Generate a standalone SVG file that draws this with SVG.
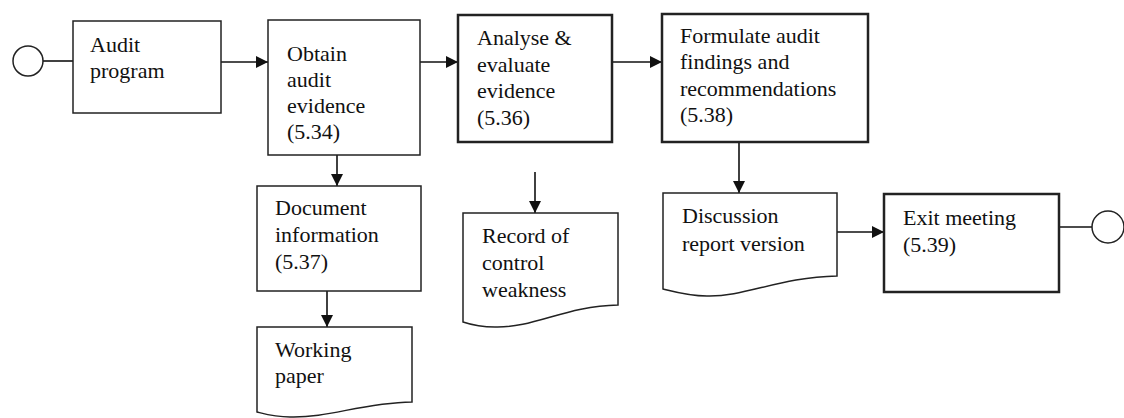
<svg xmlns="http://www.w3.org/2000/svg" width="1124" height="418" viewBox="0 0 1124 418">
<defs>
<marker id="ah" markerUnits="userSpaceOnUse" markerWidth="12" markerHeight="12" viewBox="0 0 12 12" refX="12" refY="6" orient="auto">
<path d="M0,0 L12,6 L0,12 Z" fill="#111"/>
</marker>
</defs>
<style>
.thin{fill:#fff;stroke:#222;stroke-width:1.5}
.thick{fill:#fff;stroke:#222;stroke-width:2.5}
.t{font-family:'Liberation Serif',serif;font-size:22px;fill:#111}
.d{font-family:'DejaVu Serif',serif}
.c{fill:none;stroke:#111;stroke-width:1.6}
</style>
<rect width="1124" height="418" fill="#fff"/>
<g id="connectors">
<line class="c" x1="43" y1="61" x2="73" y2="61"/>
<line class="c" x1="221" y1="62" x2="268" y2="62" marker-end="url(#ah)"/>
<line class="c" x1="420" y1="62" x2="458" y2="62" marker-end="url(#ah)"/>
<line class="c" x1="612" y1="62" x2="662" y2="62" marker-end="url(#ah)"/>
<line class="c" x1="337" y1="155" x2="337" y2="186" marker-end="url(#ah)"/>
<line class="c" x1="327" y1="291" x2="327" y2="327" marker-end="url(#ah)"/>
<line class="c" x1="535" y1="172" x2="535" y2="213" marker-end="url(#ah)"/>
<line class="c" x1="739" y1="142" x2="739" y2="193" marker-end="url(#ah)"/>
<line class="c" x1="837" y1="232" x2="884" y2="232" marker-end="url(#ah)"/>
<line class="c" x1="1059" y1="227" x2="1092" y2="227"/>
</g>
<g id="start"><circle class="thin" cx="28" cy="61" r="15"/></g>
<g id="audit-program">
<rect class="thin" x="73" y="21" width="148" height="92"/>
<text class="t" x="90" y="52"><tspan x="90">Audit</tspan><tspan x="90" dy="26">program</tspan></text>
</g>
<g id="obtain">
<rect class="thin" x="268" y="20" width="152" height="135"/>
<text class="t" x="287" y="61"><tspan x="287">Obtain</tspan><tspan x="287" dy="26">audit</tspan><tspan x="287" dy="26">evidence</tspan><tspan x="287" dy="26">(5.34)</tspan></text>
</g>
<g id="analyse">
<rect class="thick" x="458" y="15" width="154" height="127"/>
<text class="t" x="477" y="45"><tspan x="477">Analyse &amp;</tspan><tspan x="477" dy="26.5">evaluate</tspan><tspan x="477" dy="26.5">evidence</tspan><tspan x="477" dy="26.5">(5.36)</tspan></text>
</g>
<g id="formulate">
<rect class="thick" x="662" y="14" width="206" height="128"/>
<text class="t" x="680" y="43"><tspan x="680">Formulate audit</tspan><tspan x="680" dy="26.3">findings and</tspan><tspan x="680" dy="26.3">recommendations</tspan><tspan x="680" dy="26.3">(5.38)</tspan></text>
</g>
<g id="document-information">
<rect class="thin" x="257" y="186" width="164" height="105"/>
<text class="t" x="275" y="215"><tspan x="275">Document</tspan><tspan x="275" dy="27">information</tspan><tspan x="275" dy="27">(5.37)</tspan></text>
</g>
<g id="working-paper">
<path class="thin" d="M257,327 H412 V402 C360,403 330,418 290,417 C275,417 265,414 257,412 Z"/>
<text class="t" x="275" y="357"><tspan x="275">Working</tspan><tspan x="275" dy="26">paper</tspan></text>
</g>
<g id="record">
<path class="thin" d="M463,213 H618 V305 C565,306 535,328 495,327 C482,327 472,325 463,322 Z"/>
<text class="t" x="482" y="243"><tspan x="482">Record of</tspan><tspan x="482" dy="27">control</tspan><tspan x="482" dy="27">weakness</tspan></text>
</g>
<g id="discussion">
<path class="thin" d="M663,193 H837 V276 C780,277 745,297 707,296 C690,296 675,292 663,289 Z"/>
<text class="t" x="682" y="223"><tspan x="682">Discussion</tspan><tspan x="682" dy="28">report version</tspan></text>
</g>
<g id="exit-meeting">
<rect class="thick" x="884" y="194" width="175" height="98"/>
<text class="t" x="903" y="225"><tspan x="903">Exit meeting</tspan><tspan x="903" dy="27">(5.39)</tspan></text>
</g>
<g id="end"><circle class="thin" cx="1108" cy="227" r="16"/></g>
</svg>
